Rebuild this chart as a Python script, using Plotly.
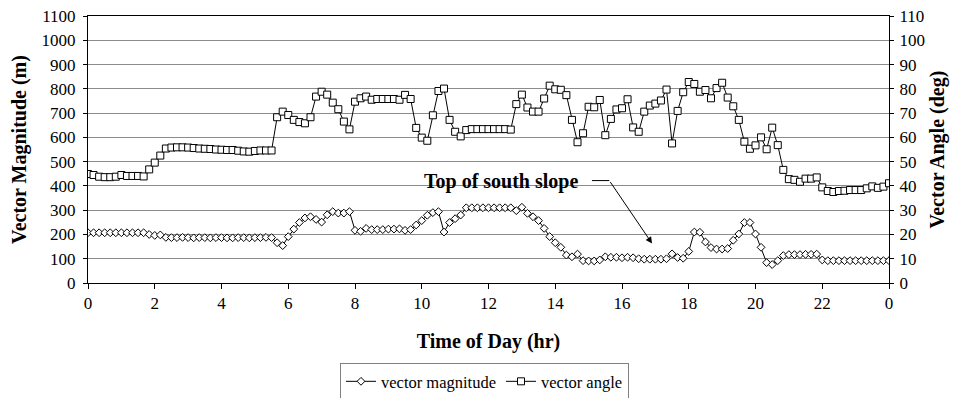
import plotly.graph_objects as go

# Time of day (hr), sampled every 10 minutes from 0 to 24
time_hr = [i / 6 for i in range(145)]

x_tick_vals = [0, 2, 4, 6, 8, 10, 12, 14, 16, 18, 20, 22, 24]
x_tick_text = ["0", "2", "4", "6", "8", "10", "12", "14", "16", "18", "20", "22", "0"]

vector_magnitude = [
    207, 207, 207, 207, 207, 207, 207, 207, 207, 207, 207, 200, 196, 198,
    188, 187, 187, 188, 187, 186, 187, 187, 186, 187, 187, 186, 186, 187, 187, 186, 187, 187, 188, 187,
    166, 154, 191, 222, 249, 268, 273, 262, 251, 281, 294, 288, 288, 294,
    217, 213, 225, 220, 220, 220, 222, 222, 223, 217, 220,
    239, 257, 279, 290, 294, 210, 249, 265, 280,
    310, 310, 310, 310, 310, 310, 310, 310, 310,
    298, 312, 287, 273, 257, 225, 191, 166, 147, 115, 108, 119,
    92, 91, 91, 95, 108,
    106, 106, 104, 106, 104, 100, 98, 98, 98, 98, 100, 120, 105, 102, 130,
    210, 209, 169, 146, 140, 140, 142, 176, 202, 249, 249, 202, 147, 84, 76, 92, 113,
    117, 117, 117, 118, 118, 119,
    95,
    92, 92, 92, 92, 92, 92, 92, 92, 92, 92, 92, 92,
]

vector_angle = [
    44.9, 44.5, 43.8, 43.6, 43.6, 43.8, 44.5, 44.1, 44.1, 44.1, 43.9, 46.8, 49.6, 52.5,
    55.4, 55.8, 55.9, 55.9, 55.8, 55.6, 55.4, 55.3, 55.2, 55.0, 54.9, 54.8, 54.8, 54.5,
    54.2, 54.1, 54.4, 54.6, 54.6, 54.6,
    68.3, 70.6, 69.2, 67.2, 66.3, 65.8, 68.3, 76.8, 78.8, 77.6, 74.3, 71.6, 66.5, 63.3,
    74.7, 76.1, 76.8, 75.5, 75.8, 75.8, 75.8, 75.8, 75.5, 77.5, 75.8, 63.9, 59.9, 58.6,
    69.1, 79.1, 80.1, 67.2, 62.3, 60.4,
    63.0, 63.4, 63.4, 63.4, 63.4, 63.4, 63.4, 63.4, 63.2,
    73.7, 77.6, 72.3, 70.6, 70.6, 76.0, 81.3, 79.8, 79.6, 77.4, 67.2, 58.0, 61.7, 72.6,
    72.4, 75.4, 60.9, 67.6, 71.5, 72.0, 75.7,
    64.1, 62.3, 70.6, 73.1, 73.9, 75.2, 79.7, 57.5, 70.9, 78.6, 82.8, 82.0, 78.8, 79.5,
    76.1, 80.3, 82.5, 76.4, 72.8, 67.2, 58.2, 55.3, 56.7, 60.0, 55.1, 64.0, 56.8, 46.6,
    42.8, 42.5, 41.7, 43.0, 43.0, 43.5, 39.4, 37.9, 37.5, 37.9, 38.0, 38.3, 38.3, 38.3,
    39.0, 39.8, 39.2, 39.7, 41.1,
]

FONT = "Liberation Serif, Times New Roman, serif"

fig = go.Figure()
fig.add_trace(go.Scatter(
    x=time_hr, y=vector_magnitude, name="vector magnitude", mode="lines+markers",
    line=dict(color="black", width=1),
    marker=dict(symbol="diamond", size=6, color="white", line=dict(color="black", width=1)),
))
fig.add_trace(go.Scatter(
    x=time_hr, y=vector_angle, name="vector angle", mode="lines+markers", yaxis="y2",
    line=dict(color="black", width=1),
    marker=dict(symbol="square", size=7, color="white", line=dict(color="black", width=1)),
))

fig.add_annotation(
    x=12.38, y=420, xref="x", yref="y", text="<b>Top of south slope</b>",
    showarrow=False, font=dict(family=FONT, size=20, color="black"),
)
fig.add_shape(type="line", xref="x", yref="y", x0=15.1, x1=15.62, y0=422, y1=422,
              line=dict(color="black", width=1))
fig.add_annotation(
    x=16.9, y=163, xref="x", yref="y", ax=15.62, ay=422, axref="x", ayref="y",
    text="", showarrow=True, arrowhead=2, arrowsize=1.3, arrowwidth=1, arrowcolor="black",
)

fig.update_layout(
    width=961, height=398,
    margin=dict(l=88, r=72, t=16, b=115, autoexpand=False),
    paper_bgcolor="white", plot_bgcolor="white",
    font=dict(family=FONT, size=17, color="black"),
    showlegend=True,
    legend=dict(orientation="h", x=0.495, xanchor="center", y=-0.30, yanchor="top",
                bordercolor="#808080", borderwidth=1, font=dict(size=16.5),
                bgcolor="white", itemwidth=30, tracegroupgap=0),
    xaxis=dict(range=[0, 24], tickvals=x_tick_vals, ticktext=x_tick_text,
               showgrid=False, zeroline=False, showline=True, linecolor="black",
               mirror=True, ticks="outside", ticklen=5, tickcolor="black",
               automargin=False,
               title=dict(text="<b>Time of Day (hr)</b>", font=dict(size=20), standoff=21)),
    yaxis=dict(range=[0, 1100], dtick=100, showgrid=True, gridcolor="#8c8c8c",
               zeroline=False, showline=True, linecolor="black", ticks="outside",
               ticklen=4, tickcolor="black", ticklabelstandoff=4, automargin=False,
               title=dict(text="<b>Vector Magnitude (m)</b>", font=dict(size=20), standoff=9)),
    yaxis2=dict(range=[0, 110], dtick=10, overlaying="y", side="right", showgrid=False,
                zeroline=False, showline=True, linecolor="black", ticks="outside",
                ticklen=4, tickcolor="black", ticklabelstandoff=2, automargin=False,
                title=dict(text="<b>Vector Angle (deg)</b>", font=dict(size=20), standoff=6)),
)

fig.write_html("out.html")
